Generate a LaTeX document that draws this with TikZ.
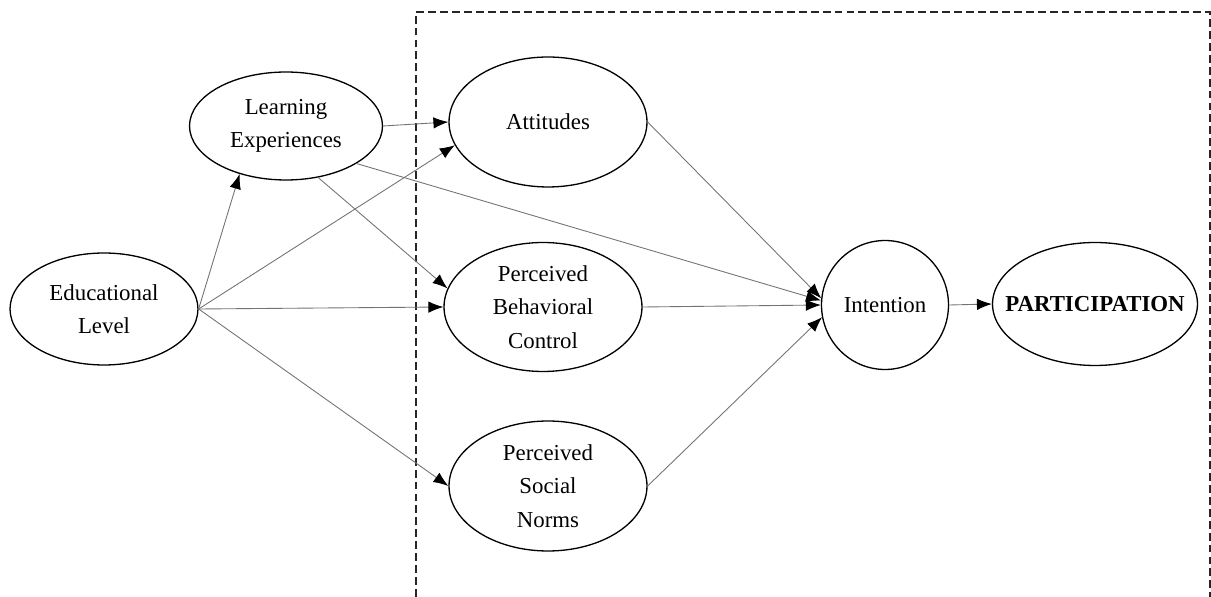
\documentclass[tikz,border=0pt]{standalone}
\usepackage{fontspec}
\setmainfont{Liberation Serif}
\usetikzlibrary{shapes, arrows.meta, positioning, calc}

\begin{document}
\begin{tikzpicture}[x=0.02cm, y=-0.02cm,
  font=\fontsize{13}{19}\selectfont,
  latent/.style={draw, ellipse, line width=0.75pt, inner sep=-1.5cm, align=center},
  link/.style={draw=black!55, line width=0.5pt, -{Latex[length=8.5pt,width=6.5pt,color=black]}}]
\useasboundingbox (0,0) rectangle (1211,597);

% planned behaviour block (open at the bottom)
\draw[black!85, line width=0.6pt, dash pattern=on 4.5pt off 2.3pt] (416,597) -- (416,12) -- (1210,12) -- (1210,597);

% antecedents
\node[latent, minimum width=3.76cm, minimum height=2.24cm] (edu) at (104,309) {Educational\\Level};
\node[latent, minimum width=3.86cm, minimum height=2.16cm] (learn) at (286,126) {Learning\\Experiences};

% attitudes, control, norms
\node[latent, minimum width=3.96cm, minimum height=2.6cm] (att) at (548,122) {Attitudes};
\node[latent, minimum width=3.96cm, minimum height=2.58cm] (pbc) at (543,307) {Perceived\\Behavioral\\Control};
\node[latent, minimum width=3.96cm, minimum height=2.6cm] (psn) at (548,486) {Perceived\\Social\\Norms};

% outcome
\node[latent, minimum width=2.54cm, minimum height=2.58cm] (intent) at (885,305) {Intention};
\node[latent, minimum width=4.1cm, minimum height=2.46cm] (part) at (1095,304) {\textbf{PARTICIPATION}};

% paths
\draw[link] (edu.east) -- (learn.226);
\draw[link] (edu.east) -- (att.194);
\draw[link] (edu.east) -- (pbc.west);
\draw[link] (edu.east) -- (psn.west);
\draw[link] (learn.east) -- (att.west);
\draw[link] (learn.302) -- (pbc.169);
\draw[link] (learn.332) -- (intent.176);
\draw[link] (att.east) -- (intent.174);
\draw[link] (pbc.east) -- (intent.west);
\draw[link] (psn.east) -- (intent.191);
\draw[link] (intent.east) -- (part.west);
\end{tikzpicture}
\end{document}
